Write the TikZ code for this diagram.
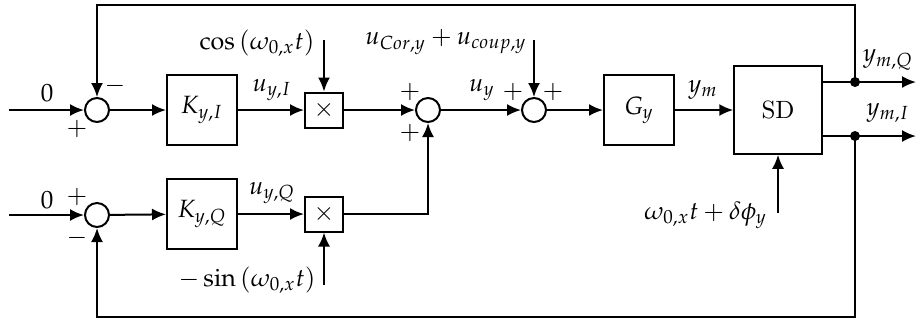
\documentclass[tikz,border=0pt]{standalone}
\usepackage{mathpazo}
\usetikzlibrary{arrows.meta}
\begin{document}
\begin{tikzpicture}[x=0.4pt,y=-0.4pt,
  line width=0.8pt,
  >={Latex[length=5.6pt,width=4.8pt]},
  blk/.style={draw,minimum width=28pt,minimum height=28pt,inner sep=0pt},
  mult/.style={draw,minimum width=15.2pt,minimum height=14pt,inner sep=0pt},
  sdbox/.style={draw,minimum size=35pt,inner sep=0pt},
  sumn/.style={draw,circle,minimum size=9.6pt,inner sep=0pt},
  lbl/.style={inner sep=0pt}]
\useasboundingbox (0,0) rectangle (918,323);
% blocks
\node[sumn] (s1) at (97,110) {};
\node[blk] (ki) at (202,110) {$K_{y,I}$};
\node[mult] (m1) at (324,110) {$\times$};
\node[sumn] (s2) at (428,110) {};
\node[sumn] (s3) at (534,110) {};
\node[blk] (g) at (639,110) {$G_y$};
\node[sdbox] (sd) at (778,110) {SD};
\node[sumn] (s4) at (97,215) {};
\node[blk] (kq) at (202,214) {$K_{y,Q}$};
\node[mult] (m2) at (324,214) {$\times$};
% free ends
\coordinate (in1) at (9,110);
\coordinate (in2) at (9,215);
\coordinate (c1) at (324,40);
\coordinate (c2) at (534,40);
\coordinate (c3) at (324,285);
\coordinate (c4) at (778,213);
\coordinate (dq) at (855,82);
\coordinate (di) at (855,136);
\coordinate (oq) at (916,82);
\coordinate (oi) at (916,136);
\coordinate (tp) at (97,5);
\coordinate (bp) at (97,317);
% connectors
\draw[->] (in1) -- (s1);
\draw[->] (s1) -- (ki);
\draw[->] (ki) -- (m1);
\draw[->] (m1) -- (s2);
\draw[->] (s2) -- (s3);
\draw[->] (s3) -- (g);
\draw[->] (g) -- (sd);
\draw[->] (c1) -- (m1);
\draw[->] (c2) -- (s3);
\draw[->] (c4) -- (sd);
\draw[->] (in2) -- (s4);
\draw[->] (s4) -- (kq);
\draw[->] (kq) -- (m2);
\draw[->] (c3) -- (m2);
\draw[->] (m2) -| (s2);
\draw[->] (sd.east |- dq) -- (oq);
\draw[->] (sd.east |- di) -- (oi);
\draw[->] (dq) |- (tp) -- (s1);
\draw[->] (di) |- (bp) -- (s4);
\fill (dq) circle (2pt);
\fill (di) circle (2pt);
% labels
\node[lbl] at (47,93) {$0$};
\node[lbl] at (77,129) {$+$};
\node[lbl] at (115,86) {$-$};
\node[lbl] at (272,90) {$u_{y,I}$};
\node[lbl] at (257,43) {$\cos\left(\omega_{0,x}t\right)$};
\node[lbl] at (410,92) {$+$};
\node[lbl] at (410,133) {$+$};
\node[lbl] at (482,90) {$u_y$};
\node[lbl] at (446,42) {$u_{Cor,y}+u_{coup,y}$};
\node[lbl] at (513,92) {$+$};
\node[lbl] at (553,92) {$+$};
\node[lbl] at (703,90) {$y_m$};
\node[lbl] at (888,60) {$y_{m,Q}$};
\node[lbl] at (888,113) {$y_{m,I}$};
\node[lbl,anchor=east] at (768,215) {$\omega_{0,x}t+\delta\phi_y$};
\node[lbl] at (47,200) {$0$};
\node[lbl] at (77,197) {$+$};
\node[lbl] at (77,238) {$-$};
\node[lbl] at (272,193) {$u_{y,Q}$};
\node[lbl] at (247,280) {$-\sin\left(\omega_{0,x}t\right)$};
\end{tikzpicture}
\end{document}
